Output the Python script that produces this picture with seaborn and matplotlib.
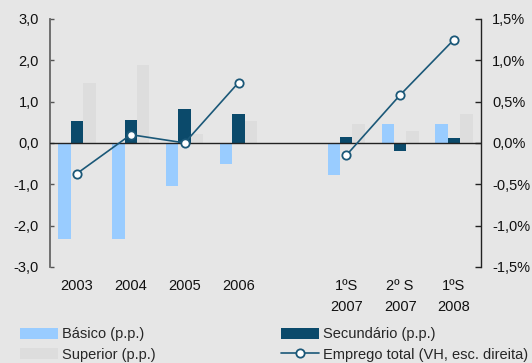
import numpy as np
import pandas as pd
import matplotlib
matplotlib.use("Agg")
import matplotlib.pyplot as plt
from matplotlib.patches import Patch
from matplotlib.lines import Line2D
from matplotlib.ticker import FixedLocator, FuncFormatter
import seaborn as sns

# Periods (an empty slot separates the annual and half-year blocks)
periods = ["2003", "2004", "2005", "2006", "", "1ºS\n2007", "2º S\n2007", "1ºS\n2008"]
basico = [-2.32, -2.32, -1.03, -0.52, np.nan, -0.77, 0.46, 0.46]
secundario = [0.53, 0.56, 0.82, 0.70, np.nan, 0.15, -0.19, 0.12]
superior = [1.45, 1.89, 0.22, 0.53, np.nan, 0.46, 0.29, 0.70]
emprego = [-0.37, 0.10, 0.00, 0.73, np.nan, -0.15, 0.58, 1.25]
segment = [0, 0, 0, 0, -1, 1, 1, 1]

series_names = ["Básico (p.p.)", "Secundário (p.p.)", "Superior (p.p.)"]
line_name = "Emprego total (VH, esc. direita)"
colors = {"Básico (p.p.)": "#99CCFF", "Secundário (p.p.)": "#0B4A6B", "Superior (p.p.)": "#DDDDDD"}
line_color = "#1B5878"
bg = "#E6E6E6"

rows = []
for name, vals in zip(series_names, [basico, secundario, superior]):
    for p, v in zip(periods, vals):
        if not np.isnan(v):
            rows.append({"periodo": p, "serie": name, "valor": v})
bars = pd.DataFrame(rows)

line_df = pd.DataFrame({"pos": np.arange(len(periods)), "valor": emprego, "seg": segment}).dropna()

sns.set_theme(style="white")
plt.rcParams["font.family"] = ["Liberation Sans", "DejaVu Sans"]
plt.rcParams["font.size"] = 10.5

fig = plt.figure(figsize=(5.32, 3.63), dpi=100, facecolor=bg)
ax = fig.add_axes([0.094, 0.2645, 0.810, 0.6835])
ax.set_facecolor(bg)

sns.barplot(data=bars, x="periodo", y="valor", hue="serie", order=periods,
            hue_order=series_names, palette=colors, width=0.69, gap=0,
            saturation=1, errorbar=None, legend=False, linewidth=0, ax=ax)

ax.set_xlim(-0.5, len(periods) - 0.5)
ax.set_ylim(-3.0, 3.0)
ax.yaxis.set_major_locator(FixedLocator([-3, -2, -1, 0, 1, 2, 3]))
ax.yaxis.set_major_formatter(FuncFormatter(lambda v, _: f"{v:.1f}".replace(".", ",")))
ax.axhline(0, color="#222222", lw=1.0, zorder=3)
ax.set_xlabel("")
ax.set_ylabel("")
ax.tick_params(axis="x", length=0, pad=9, labelsize=10.5, labelcolor="#111111")
for lbl in ax.get_xticklabels():
    lbl.set_linespacing(1.6)
ax.tick_params(axis="y", direction="in", length=3, width=1, color="#555555",
               labelsize=10.5, labelcolor="#111111", pad=8, left=True)
for s in ["top", "right", "bottom"]:
    ax.spines[s].set_visible(False)
ax.spines["left"].set_color("#666666")
ax.spines["left"].set_linewidth(1.3)

ax2 = ax.twinx()
sns.lineplot(data=line_df, x="pos", y="valor", units="seg", estimator=None,
             color=line_color, lw=1.2, marker="o", markersize=6,
             markerfacecolor="white", markeredgecolor=line_color, markeredgewidth=1.3,
             ax=ax2, zorder=5)
ax2.set_xlim(-0.5, len(periods) - 0.5)
ax2.set_ylim(-1.5, 1.5)
ax2.yaxis.set_major_locator(FixedLocator([-1.5, -1.0, -0.5, 0, 0.5, 1.0, 1.5]))
ax2.yaxis.set_major_formatter(FuncFormatter(lambda v, _: f"{v:.1f}".replace(".", ",").replace("-0,0", "0,0") + "%"))
ax2.set_ylabel("")
ax2.set_xlabel("")
ax2.tick_params(axis="y", direction="in", length=4, width=1, color="#222222",
                labelsize=10.5, labelcolor="#111111", pad=8, right=True)
for s in ["top", "left", "bottom"]:
    ax2.spines[s].set_visible(False)
ax2.spines["right"].set_color("#222222")
ax2.spines["right"].set_linewidth(1.0)

handles = [
    Patch(facecolor=colors["Básico (p.p.)"], edgecolor="none"),
    Patch(facecolor=colors["Superior (p.p.)"], edgecolor="none"),
    Patch(facecolor=colors["Secundário (p.p.)"], edgecolor="none"),
    Line2D([0], [0], color=line_color, lw=1.2, marker="o", markersize=6,
           markerfacecolor="white", markeredgecolor=line_color, markeredgewidth=1.3),
]
labels = ["Básico (p.p.)", "Superior (p.p.)", "Secundário (p.p.)", line_name]
fig.legend(handles, labels, ncol=2, loc="lower left", bbox_to_anchor=(0.027, -0.012),
           borderaxespad=0, frameon=False, fontsize=10.5, handlelength=2.6, handleheight=0.75,
           handletextpad=0.3, columnspacing=8.55, labelspacing=0.42)

fig.savefig("out.png", dpi=100, facecolor=bg)
